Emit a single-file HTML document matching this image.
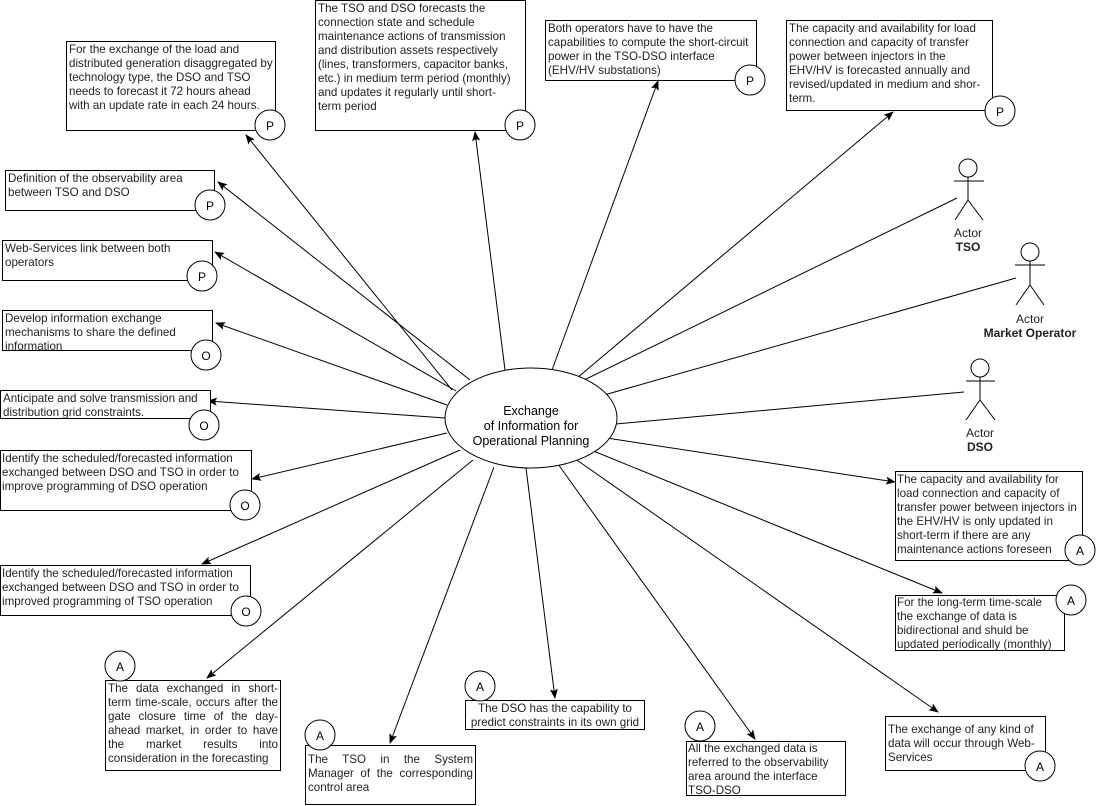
<!DOCTYPE html>
<html><head><meta charset="utf-8"><style>
body{margin:0;background:#fff;}
#c{position:relative;width:1096px;height:806px;overflow:hidden;font-family:"Liberation Sans",Arial,sans-serif;font-size:11.6px;line-height:14px;color:#222;}
.b{position:absolute;border:1px solid #000;background:#fff;box-sizing:border-box;padding:1px 2px;}
.j{text-align:justify;text-align-last:left;}
.cen{text-align:center;}
svg{position:absolute;left:0;top:0;}
.t{position:absolute;text-align:center;width:140px;font-size:12px;}
</style></head><body><div id="c">
<svg width="1096" height="806">
<defs><marker id="a" markerWidth="10" markerHeight="8" refX="9" refY="4" orient="auto" markerUnits="userSpaceOnUse"><path d="M0,0 L10,4 L0,8 L2,4 z" fill="#000"/></marker></defs>
<g stroke="#000" stroke-width="1" fill="none" marker-end="url(#a)">
<line x1="452" y1="390" x2="246" y2="135"/>
<line x1="505" y1="370" x2="475" y2="132"/>
<line x1="552" y1="370" x2="658" y2="81"/>
<line x1="577" y1="378" x2="893" y2="112"/>
<line x1="470" y1="380" x2="218" y2="182"/>
<line x1="456" y1="391" x2="215" y2="252"/>
<line x1="447" y1="405" x2="216" y2="323"/>
<line x1="445" y1="418" x2="208" y2="401"/>
<line x1="447" y1="433" x2="252" y2="479"/>
<line x1="460" y1="450" x2="202" y2="564"/>
<line x1="473" y1="460" x2="207" y2="678"/>
<line x1="494" y1="467" x2="390" y2="743"/>
<line x1="526" y1="468" x2="555" y2="698"/>
<line x1="558" y1="464" x2="755" y2="739"/>
<line x1="571" y1="456" x2="938" y2="712"/>
<line x1="586" y1="448" x2="942" y2="593"/>
<line x1="600" y1="437" x2="895" y2="482"/>
</g>
<g stroke="#000" stroke-width="1" fill="none">
<line x1="580" y1="382" x2="957" y2="198"/>
<line x1="597" y1="397" x2="1016" y2="278"/>
<line x1="605" y1="425" x2="964" y2="392"/>
<circle cx="968" cy="168" r="9"/><line x1="968" y1="177" x2="968" y2="200"/><line x1="954" y1="181" x2="984" y2="181"/><line x1="968" y1="200" x2="955" y2="220"/><line x1="968" y1="200" x2="983" y2="220"/>
<circle cx="1030" cy="252" r="9"/><line x1="1030" y1="261" x2="1030" y2="285"/><line x1="1015" y1="265" x2="1045" y2="265"/><line x1="1030" y1="285" x2="1016" y2="305"/><line x1="1030" y1="285" x2="1044" y2="305"/>
<circle cx="980" cy="368" r="9"/><line x1="980" y1="377" x2="980" y2="400"/><line x1="966" y1="381" x2="995" y2="381"/><line x1="980" y1="400" x2="966" y2="420"/><line x1="980" y1="400" x2="995" y2="420"/>
</g>
<ellipse cx="531" cy="418" rx="86" ry="50" fill="#fff" stroke="#000"/>
<g font-size="12.5" text-anchor="middle" font-family="Liberation Sans,Arial,sans-serif" fill="#000">
<text x="531" y="415">Exchange</text>
<text x="531" y="430">of Information for</text>
<text x="531" y="445">Operational Planning</text>
</g>
</svg>
<div class="t" style="left:898px;top:226px">Actor<br><b>TSO</b></div>
<div class="t" style="left:960px;top:312px">Actor<br><b>Market Operator</b></div>
<div class="t" style="left:910px;top:426px">Actor<br><b>DSO</b></div>

<div class="b" style="left:66px;top:41px;width:210px;height:90px">For the exchange of the load and distributed generation disaggregated by technology type, the DSO and TSO needs to forecast it 72 hours ahead with an update rate in each 24 hours.</div>
<div class="b" style="left:315px;top:0;width:211px;height:131px">The TSO and DSO forecasts the connection state and schedule maintenance actions of transmission and distribution assets respectively (lines, transformers, capacitor banks, etc.) in medium term period (monthly) and updates it regularly until short-<br>term period</div>
<div class="b" style="left:545px;top:20px;width:212px;height:61px">Both operators have to have the capabilities to compute the short-circuit power in the TSO-DSO interface (EHV/HV substations)</div>
<div class="b" style="left:786px;top:20px;width:207px;height:91px">The capacity and availability for load connection and capacity of transfer power between injectors in the EHV/HV is forecasted annually and revised/updated in medium and shor-term.</div>
<div class="b" style="left:5px;top:170px;width:210px;height:41px">Definition of the observability area between TSO and DSO</div>
<div class="b" style="left:2px;top:240px;width:211px;height:41px">Web-Services link between both operators</div>
<div class="b" style="left:2px;top:310px;width:211px;height:41px">Develop information exchange mechanisms to share the defined information</div>
<div class="b" style="left:0;top:390px;width:211px;height:29px">Anticipate and solve transmission and distribution grid constraints.</div>
<div class="b" style="left:0;top:450px;width:252px;height:61px;padding-left:1px">Identify the scheduled/forecasted information exchanged between DSO and TSO in order to improve programming of DSO operation</div>
<div class="b" style="left:0;top:565px;width:251px;height:51px;padding-left:1px">Identify the scheduled/forecasted information exchanged between DSO and TSO in order to improved programming of TSO operation</div>
<div class="b j" style="left:105px;top:680px;width:176px;height:91px">The data exchanged in short-term time-scale, occurs after the gate closure time of the day-ahead market, in order to have the market results into consideration in the forecasting</div>
<div class="b j" style="left:305px;top:745px;width:171px;height:60px;padding-top:7px">The TSO in the System Manager of the corresponding control area</div>
<div class="b cen" style="left:465px;top:700px;width:180px;height:30px;padding:1px 0">The DSO has the capability to predict constraints in its own grid</div>
<div class="b" style="left:686px;top:741px;width:160px;height:55px;padding:0 1px">All the exchanged data is referred to the observability area around the interface TSO-DSO</div>
<div class="b" style="left:885px;top:716px;width:161px;height:55px;padding-top:6px">The exchange of any kind of data will occur through Web-Services</div>
<div class="b" style="left:895px;top:595px;width:170px;height:56px;padding:0 1px">For the long-term time-scale<br>the exchange of data is<br>bidirectional and shuld be<br>updated periodically (monthly)</div>
<div class="b" style="left:895px;top:471px;width:188px;height:90px;padding-left:1px">The capacity and availability for load connection and capacity of transfer power between injectors in the EHV/HV is only updated in short-term if there are any maintenance actions foreseen</div>

<svg width="1096" height="806">
<g stroke="#000" fill="#fff">
<circle cx="270" cy="125" r="15"/><circle cx="520" cy="125" r="15"/><circle cx="750" cy="80" r="15"/><circle cx="1000" cy="111" r="15"/>
<circle cx="210" cy="205" r="15"/><circle cx="202" cy="276" r="15"/><circle cx="206" cy="355" r="15"/><circle cx="204" cy="425" r="15"/>
<circle cx="245" cy="505" r="15"/><circle cx="246" cy="611" r="15"/>
<circle cx="120" cy="666" r="15"/><circle cx="320" cy="735" r="15"/><circle cx="480" cy="686" r="15"/><circle cx="700" cy="726" r="15"/>
<circle cx="1040" cy="766" r="15"/><circle cx="1071" cy="600" r="15"/><circle cx="1080" cy="550" r="15"/>
</g>
<g font-family="Liberation Sans,Arial,sans-serif" font-size="12" text-anchor="middle" fill="#000">
<text x="270" y="130">P</text><text x="520" y="130">P</text><text x="750" y="85">P</text><text x="1000" y="116">P</text>
<text x="210" y="210">P</text><text x="202" y="281">P</text><text x="206" y="360">O</text><text x="204" y="430">O</text>
<text x="245" y="510">O</text><text x="246" y="616">O</text>
<text x="120" y="671">A</text><text x="320" y="740">A</text><text x="480" y="691">A</text><text x="700" y="731">A</text>
<text x="1040" y="771">A</text><text x="1071" y="605">A</text><text x="1080" y="555">A</text>
</g>
</svg>
</div></body></html>
